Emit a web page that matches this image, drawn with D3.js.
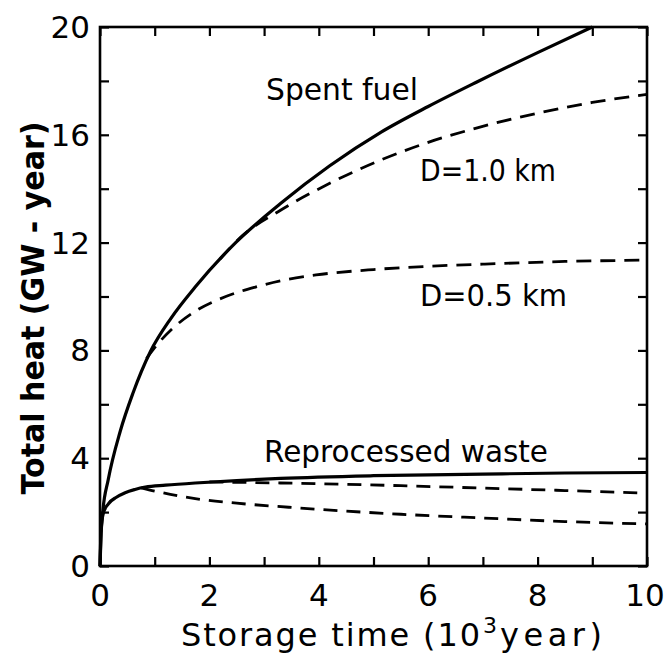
<!DOCTYPE html>
<html>
<head>
<meta charset="utf-8">
<script src="https://cdn.jsdelivr.net/npm/d3@7"></script>
<style>
  html, body { margin: 0; padding: 0; background: #fff; }
  svg { display: block; }
  text { font-family: "DejaVu Sans", sans-serif; fill: #000; }
</style>
</head>
<body>
<div id="chart"></div>
<script>
// Storage time in 10^3 years, total heat in GW-year
const spentTime   = [0, 0.02, 0.05, 0.15, 0.37, 0.6, 0.92, 1.3, 1.74, 2.48, 3.3, 4.2, 5.14, 6.0, 6.88, 8.0, 9.0];
const spentHeat   = [0, 1.2, 2.0, 3.2, 5.0, 6.4, 7.95, 9.2, 10.35, 12.0, 13.45, 14.85, 16.1, 17.05, 17.95, 19.05, 20.0];

const spent1kmTime = [2.2, 2.6, 3.3, 4.2, 5.14, 6.0, 6.88, 8.0, 9.0, 10.0];
const spent1kmHeat = [11.4, 12.25, 13.2, 14.2, 15.07, 15.72, 16.25, 16.8, 17.2, 17.5];

const spent05kmTime = [0.85, 1.06, 1.32, 1.74, 2.3, 2.84, 3.34, 3.95, 5.0, 6.0, 7.0, 8.5, 10.0];
const spent05kmHeat = [7.7, 8.25, 8.8, 9.45, 10.0, 10.35, 10.6, 10.8, 11.0, 11.12, 11.2, 11.3, 11.35];

const wasteTime = [0, 0.02, 0.06, 0.15, 0.3, 0.46, 0.64, 0.83, 1.2, 1.74, 2.5, 3.3, 5.0, 7.0, 8.5, 10.0];
const wasteHeat = [0, 1.3, 1.95, 2.3, 2.55, 2.72, 2.84, 2.93, 3.0, 3.08, 3.17, 3.25, 3.35, 3.41, 3.45, 3.47];

const waste1kmTime = [2.0, 3.3, 5.5, 7.0, 8.5, 10.0];
const waste1kmHeat = [3.12, 3.08, 2.98, 2.89, 2.8, 2.7];

const waste05kmTime = [0.75, 1.0, 1.74, 2.5, 3.45, 5.5, 7.0, 8.5, 10.0];
const waste05kmHeat = [2.9, 2.78, 2.5, 2.33, 2.18, 1.92, 1.78, 1.65, 1.56];

const xTicks = [0, 1, 2, 3, 4, 5, 6, 7, 8, 9, 10];
const xTickLabels = [0, 2, 4, 6, 8, 10];
const yTicks = [0, 2, 4, 6, 8, 10, 12, 14, 16, 18, 20];
const yTickLabels = [0, 4, 8, 12, 16, 20];

const W = 666, H = 670;
const plotLeft = 100, plotRight = 647, plotTop = 27, plotBottom = 566;

const svg = d3.select("#chart").append("svg").attr("width", W).attr("height", H);

const x = d3.scaleLinear().domain([0, 10]).range([plotLeft, plotRight]);
const y = d3.scaleLinear().domain([0, 20]).range([plotBottom, plotTop]);

// Inward ticks on all four sides
const tickLen = 9;
const axisStyle = g => {
  g.select(".domain").remove();
  g.selectAll(".tick line").attr("stroke", "#000").attr("stroke-width", 2.2);
  g.selectAll(".tick text").remove();
};
svg.append("g").attr("transform", `translate(0,${plotBottom})`)
  .call(d3.axisBottom(x).tickValues(xTicks).tickSize(-tickLen)).call(axisStyle);
svg.append("g").attr("transform", `translate(0,${plotTop})`)
  .call(d3.axisTop(x).tickValues(xTicks).tickSize(-tickLen)).call(axisStyle);
svg.append("g").attr("transform", `translate(${plotLeft},0)`)
  .call(d3.axisLeft(y).tickValues(yTicks).tickSize(-tickLen)).call(axisStyle);
svg.append("g").attr("transform", `translate(${plotRight},0)`)
  .call(d3.axisRight(y).tickValues(yTicks).tickSize(-tickLen)).call(axisStyle);

// Frame
svg.append("rect")
  .attr("x", x(0)).attr("y", y(20))
  .attr("width", x(10) - x(0)).attr("height", y(0) - y(20))
  .attr("fill", "none").attr("stroke", "#000").attr("stroke-width", 2.6);

// Tick labels
svg.append("g").selectAll("text").data(xTickLabels).join("text")
  .attr("x", d => x(d) + (d === 10 ? -2 : 0))
  .attr("y", 606)
  .attr("text-anchor", "middle")
  .attr("font-size", 31)
  .text(d => d);

svg.append("g").selectAll("text").data(yTickLabels).join("text")
  .attr("x", 90)
  .attr("y", d => y(d) + 11)
  .attr("text-anchor", "end")
  .attr("font-size", 31)
  .text(d => d);

// Axis titles
const xt = svg.append("g");
xt.append("text").attr("x", 181).attr("y", 646).attr("font-size", 32)
  .attr("textLength", 299).attr("lengthAdjust", "spacing")
  .text("Storage time (10");
xt.append("text").attr("x", 483).attr("y", 633).attr("font-size", 22).text("3");
xt.append("text").attr("x", 500).attr("y", 646).attr("font-size", 32)
  .attr("textLength", 102).attr("lengthAdjust", "spacing")
  .text("year)");

svg.append("text")
  .attr("transform", `translate(44,308) rotate(-90)`)
  .attr("text-anchor", "middle")
  .attr("font-size", 32).attr("font-weight", "bold")
  .attr("textLength", 373).attr("lengthAdjust", "spacingAndGlyphs")
  .text("Total heat (GW - year)");

// Curves
const line = d3.line().x(d => x(d[0])).y(d => y(d[1])).curve(d3.curveMonotoneX);
const zip = (a, b) => a.map((t, i) => [t, b[i]]);

const curves = [
  { pts: zip(spentTime, spentHeat), dash: null },
  { pts: zip(spent1kmTime, spent1kmHeat), dash: "15 9" },
  { pts: zip(spent05kmTime, spent05kmHeat), dash: "15 9" },
  { pts: zip(wasteTime, wasteHeat), dash: null },
  { pts: zip(waste1kmTime, waste1kmHeat), dash: "14 9" },
  { pts: zip(waste05kmTime, waste05kmHeat), dash: "14 9" }
];

svg.append("g").selectAll("path").data(curves).join("path")
  .attr("d", d => line(d.pts))
  .attr("fill", "none")
  .attr("stroke", "#000")
  .attr("stroke-width", d => d.dash ? 2.8 : 3.2)
  .attr("stroke-dasharray", d => d.dash);

// Curve labels
const labels = [
  { text: "Spent fuel", x: 266, y: 100, len: 152 },
  { text: "D=1.0 km", x: 420, y: 181, len: 136 },
  { text: "D=0.5 km", x: 420, y: 306, len: 147 },
  { text: "Reprocessed waste", x: 264, y: 462, len: 284 }
];
svg.append("g").selectAll("text").data(labels).join("text")
  .attr("x", d => d.x).attr("y", d => d.y)
  .attr("font-size", 30)
  .attr("textLength", d => d.len).attr("lengthAdjust", "spacingAndGlyphs")
  .text(d => d.text);
</script>
</body>
</html>
